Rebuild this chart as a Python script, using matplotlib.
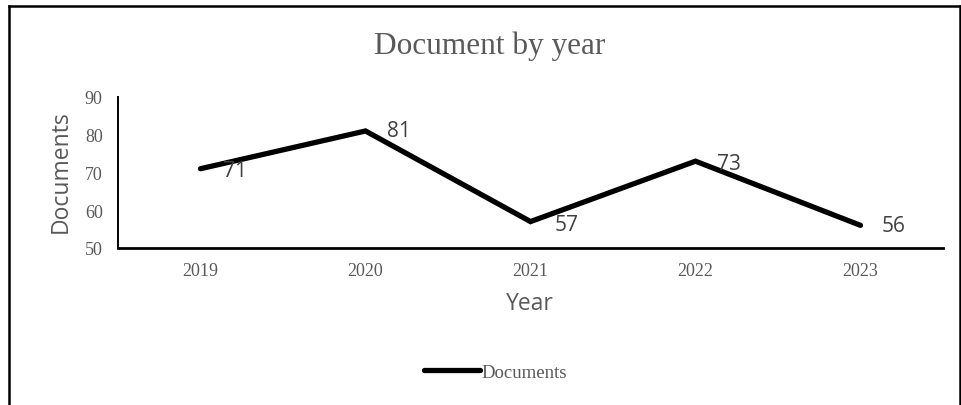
import matplotlib.pyplot as plt
from matplotlib.lines import Line2D

years = ["2019", "2020", "2021", "2022", "2023"]
documents = [71, 81, 57, 73, 56]
# label offsets in points (label placement as in the original)
label_offsets = [(25, -1), (24, 0), (26, -2), (24, -2), (24, 0)]

W, H = 962, 406
fig = plt.figure(figsize=(W / 100, H / 100), dpi=100)

serif = "Liberation Serif"
sans = "Open Sans"
grey = "#595959"

# outer chart border (bottom edge falls off the image)
for xs, ys in [([9, 9], [406, 7]), ([9, 960], [7, 7]), ([960, 960], [7, 406])]:
    fig.add_artist(Line2D([x / W for x in xs], [1 - y / H for y in ys],
                          color="black", lw=1.8, transform=fig.transFigure))

ax = fig.add_axes([118 / W, 1 - 249 / H, (943 - 118) / W, (249 - 98) / H])
x = range(len(years))
ax.plot(x, documents, color="black", lw=3.8, solid_capstyle="round",
        solid_joinstyle="miter", label="Documents")

for i, v in enumerate(documents):
    ax.annotate(str(v), (i, v), xytext=label_offsets[i], textcoords="offset points",
                ha="center", va="center", fontsize=15, family=sans, color="#404040")

ax.set_xlim(-0.5, 4.5)
ax.set_ylim(50, 90)
ax.set_yticks([50, 60, 70, 80, 90])
ax.set_xticks(list(x))
ax.set_xticklabels(years)
ax.tick_params(length=0, labelsize=13, labelcolor=grey)
ax.tick_params(axis="y", pad=11)
ax.tick_params(axis="x", pad=10)
for lab in ax.get_xticklabels() + ax.get_yticklabels():
    lab.set_family(serif)

ax.spines["top"].set_visible(False)
ax.spines["right"].set_visible(False)
ax.spines["left"].set_linewidth(1.4)
ax.spines["bottom"].set_linewidth(2.0)

fig.text(530 / W, 1 - 304 / H, "Year", ha="center", va="center",
         family=sans, fontsize=16.5, color=grey)
fig.text(61 / W, 1 - 172 / H, "Documents", ha="center", va="center", rotation=90,
         family=sans, fontsize=16.5, color=grey)

fig.text(490 / W, 1 - 46 / H, "Document by year", ha="center", va="center",
         family=serif, fontsize=22.5, color=grey)

leg = fig.legend(loc="center left", bbox_to_anchor=(407 / W, 1 - 373 / H), frameon=False,
                 prop={"family": serif, "size": 13.5}, handlelength=3.0, handletextpad=0.05)
for t in leg.get_texts():
    t.set_color(grey)

fig.savefig("out.png", dpi=100)
